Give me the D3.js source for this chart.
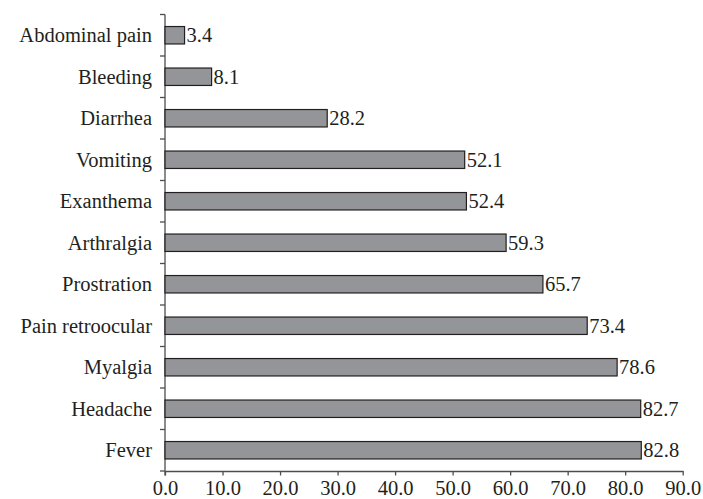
<!DOCTYPE html>
<html>
<head>
<meta charset="utf-8">
<script src="https://cdn.jsdelivr.net/npm/d3@7"></script>
<style>
html,body{margin:0;padding:0;background:#fff;}
svg{display:block;}
</style>
</head>
<body>
<svg id="chart" width="703" height="499"></svg>
<script>
const categories = ["Abdominal pain","Bleeding","Diarrhea","Vomiting","Exanthema","Arthralgia","Prostration","Pain retroocular","Myalgia","Headache","Fever"];
const values = [3.4, 8.1, 28.2, 52.1, 52.4, 59.3, 65.7, 73.4, 78.6, 82.7, 82.8];
const xTicks = [0,10,20,30,40,50,60,70,80,90];

const W = 703, H = 499;
const margin = {top: 14.5, right: 20.3, bottom: 28, left: 165};
const svg = d3.select("#chart");
const font = "'Liberation Serif', 'DejaVu Serif', serif";
const fs = 20.5;

const x = d3.scaleLinear().domain([0, 90]).range([margin.left, W - margin.right]);
const y = d3.scaleBand().domain(categories).range([margin.top, H - margin.bottom]).paddingInner(0.58).paddingOuter(0.29);
const yb = d3.scaleBand().domain(categories).range([margin.top, H - margin.bottom]);

const axisColor = "#4d4d4f";
svg.append("line").attr("x1", margin.left).attr("x2", margin.left)
  .attr("y1", margin.top).attr("y2", H - margin.bottom + 4.5)
  .attr("stroke", axisColor).attr("stroke-width", 1.3);
const bounds = categories.map(c => yb(c)).concat([H - margin.bottom]);
svg.selectAll(".ytick").data(bounds).enter().append("line")
  .attr("x1", margin.left - 5).attr("x2", margin.left)
  .attr("y1", d => d).attr("y2", d => d)
  .attr("stroke", axisColor).attr("stroke-width", 1.3);

const xAxis = d3.axisBottom(x).tickValues(xTicks).tickFormat(d3.format(".1f")).tickSizeOuter(0).tickSizeInner(4.5).tickPadding(5);
const gx = svg.append("g").attr("transform", `translate(0,${H - margin.bottom})`).call(xAxis);
gx.select(".domain").attr("stroke", axisColor).attr("stroke-width", 1.3);
gx.selectAll(".tick line").attr("stroke", axisColor).attr("stroke-width", 1.3);
gx.selectAll(".tick text").attr("font-family", font).attr("font-size", fs).attr("fill", "#231f20");

svg.selectAll(".bar").data(values).enter().append("rect")
  .attr("x", x(0)).attr("y", (d, i) => y(categories[i]))
  .attr("width", d => x(d) - x(0)).attr("height", y.bandwidth())
  .attr("fill", "#939598").attr("stroke", "#231f20").attr("stroke-width", 1.2);

svg.selectAll(".val").data(values).enter().append("text")
  .attr("x", d => x(d) + 2).attr("y", (d, i) => y(categories[i]) + y.bandwidth() / 2)
  .attr("dy", "0.35em").attr("font-family", font).attr("font-size", fs).attr("fill", "#231f20")
  .text(d => d.toFixed(1));

svg.selectAll(".cat").data(categories).enter().append("text")
  .attr("x", margin.left - 13).attr("y", d => y(d) + y.bandwidth() / 2)
  .attr("dy", "0.35em").attr("text-anchor", "end").attr("font-family", font).attr("font-size", fs).attr("fill", "#231f20")
  .text(d => d);
</script>
</body>
</html>
